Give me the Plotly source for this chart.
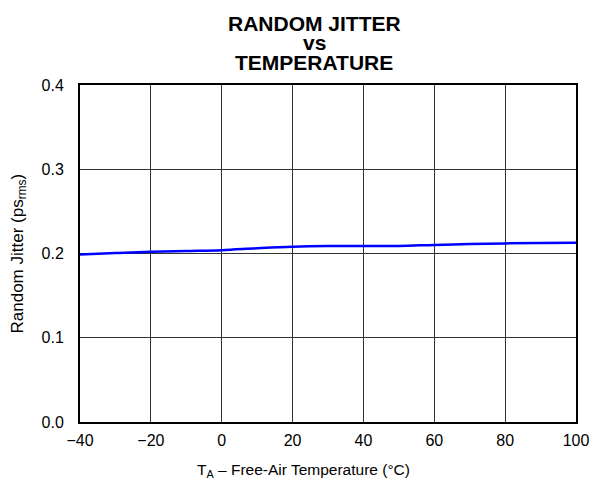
import plotly.graph_objects as go

temps = [-40, -30, -20, -10, 0, 10, 20, 30, 40, 50, 60, 70, 80, 90, 100]
jitter = [0.1988, 0.2005, 0.202, 0.203, 0.204, 0.2062, 0.208, 0.2088, 0.2088, 0.209, 0.2102, 0.2112, 0.212, 0.2125, 0.2127]

x_ticks = [-40, -20, 0, 20, 40, 60, 80, 100]
x_tick_labels = ["\u221240", "\u221220", "0", "20", "40", "60", "80", "100"]
y_ticks = [0.0, 0.1, 0.2, 0.3, 0.4]
y_tick_labels = ["0.0", "0.1", "0.2", "0.3", "0.4"]
title_lines = ["RANDOM JITTER", "vs", "TEMPERATURE"]
x_title = "T<sub>A</sub> \u2013 Free-Air Temperature (\u00b0C)"
y_title = "Random Jitter (ps<sub>rms</sub>)"

font = "Liberation Sans, Arial, sans-serif"
W, H = 592, 485
L, R, T, B = 80, 16, 85, 63
PW, PH = W - L - R, H - T - B


def px(fx):
    return (fx - L) / PW


def py(fy):
    return (H - B - fy) / PH


fig = go.Figure()
fig.add_trace(go.Scatter(x=temps, y=jitter, mode="lines",
                         line=dict(color="#0000ff", width=2.5, shape="spline", smoothing=1.0),
                         showlegend=False))

annotations = []
for line, yc in zip(title_lines, [23, 42.5, 62.5]):
    annotations.append(dict(text="<b>%s</b>" % line, xref="paper", yref="paper",
                            x=px(314), y=py(yc),
                            xanchor="center", yanchor="middle", showarrow=False,
                            font=dict(family=font, size=21, color="black")))
annotations.append(dict(text=x_title, xref="paper", yref="paper",
                        x=px(303), y=py(470), xanchor="center", yanchor="middle",
                        showarrow=False, font=dict(family=font, size=15.5, color="black")))
annotations.append(dict(text=y_title, xref="paper", yref="paper",
                        x=px(18), y=0.5, xanchor="center", yanchor="middle",
                        textangle=-90, showarrow=False,
                        font=dict(family=font, size=17, color="black")))

fig.update_layout(
    width=W, height=H,
    margin=dict(l=L, r=R, t=T, b=B),
    paper_bgcolor="white", plot_bgcolor="white",
    font=dict(family=font, size=16, color="black"),
    annotations=annotations,
)
fig.update_xaxes(range=[-40, 100], tickvals=x_ticks, ticktext=x_tick_labels,
                 showgrid=True, gridcolor="#333333", gridwidth=1,
                 showline=True, linecolor="black", linewidth=2, mirror=True,
                 ticks="", zeroline=False, automargin=False,
                 ticklabelstandoff=3, tickfont=dict(size=16))
fig.update_yaxes(range=[0, 0.4], tickvals=y_ticks, ticktext=y_tick_labels,
                 showgrid=True, gridcolor="#333333", gridwidth=1,
                 showline=True, linecolor="black", linewidth=2, mirror=True,
                 ticks="", zeroline=False, automargin=False,
                 ticklabelstandoff=11, tickfont=dict(size=16))

fig.write_html("out.html", config={"displayModeBar": False},
               post_script="document.body.style.margin='0';document.body.style.overflow='hidden';")
